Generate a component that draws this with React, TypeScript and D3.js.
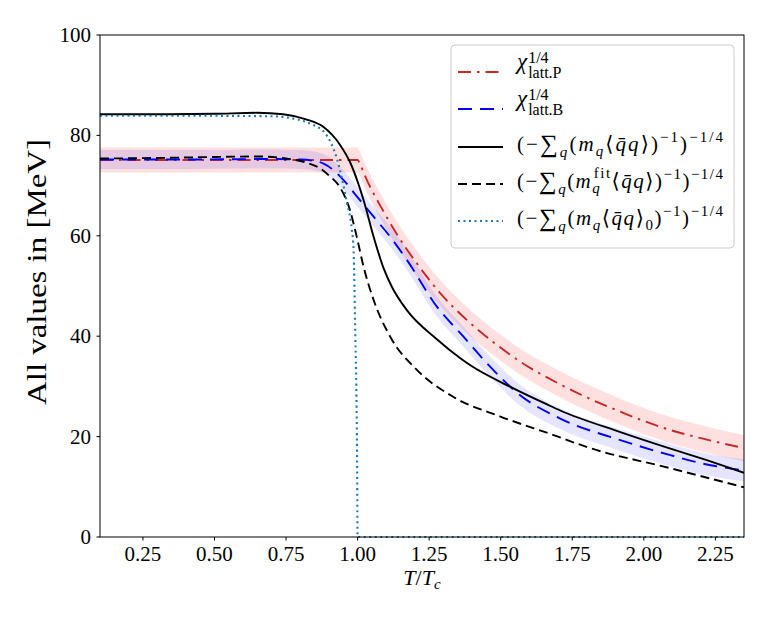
import * as React from "react";
import * as d3 from "d3";

// chi_latt.P (red, dash-dot) with its error band
const tP = [0.1, 0.5, 0.9, 1.0, 1.01, 1.027, 1.091, 1.143, 1.207, 1.29, 1.382, 1.47, 1.569, 1.708, 1.907, 2.093, 2.22, 2.35];
const chiP = [75.1, 75.1, 75.1, 75.1, 74.1, 71.8, 64.8, 59.8, 54.5, 48.5, 43.2, 39.0, 34.9, 30.4, 25.2, 21.3, 19.4, 17.7];
const chiPErr = [2.5, 2.5, 2.5, 2.5, 2.5, 2.5, 2.5, 2.5, 2.5, 2.6, 2.6, 2.6, 2.6, 2.6, 2.6, 2.6, 2.6, 2.6];

// chi_latt.B (blue, dashed) with its error band
const tB = [0.1, 0.4, 0.7, 0.8, 0.85, 0.881, 0.951, 0.998, 1.056, 1.114, 1.172, 1.277, 1.37, 1.452, 1.569, 1.708, 1.918, 2.093, 2.233, 2.35];
const chiB = [75.2, 75.2, 75.3, 75.2, 74.9, 74.4, 71.1, 67.8, 63.8, 59.8, 55.2, 45.9, 39.9, 34.6, 28.2, 23.6, 19.3, 16.3, 14.3, 13.3];
const chiBErr = [1.9, 1.9, 1.9, 1.9, 1.9, 1.9, 1.9, 1.9, 1.9, 2.0, 2.0, 2.0, 2.0, 2.0, 2.1, 2.1, 2.1, 2.2, 2.2, 2.2];

// condensate curves (black solid, black dashed, dotted)
const tS = [0.1, 0.3, 0.5, 0.65, 0.74, 0.82, 0.88, 0.94, 0.975, 1.0, 1.021, 1.056, 1.091, 1.12, 1.172, 1.277, 1.359, 1.394, 1.534, 1.662, 1.708, 1.918, 2.093, 2.22, 2.35];
const condS = [84.2, 84.2, 84.3, 84.5, 84.2, 83.2, 81.7, 78.0, 74.5, 70.8, 67.1, 59.8, 53.5, 49.8, 45.2, 39.4, 35.6, 34.2, 29.9, 26.4, 25.2, 20.9, 17.6, 15.3, 12.8];

const tF = [0.1, 0.3, 0.5, 0.65, 0.75, 0.82, 0.87, 0.9, 0.939, 0.974, 0.997, 1.021, 1.056, 1.114, 1.207, 1.335, 1.499, 1.685, 1.802, 2.093, 2.35];
const condFit = [75.4, 75.5, 75.7, 75.8, 75.4, 74.6, 73.4, 72.0, 69.6, 65.0, 59.8, 53.8, 47.2, 39.9, 33.3, 27.9, 24.0, 20.3, 17.9, 13.7, 9.9];

const t0 = [0.1, 0.5, 0.7, 0.788, 0.84, 0.887, 0.928, 0.963, 0.98, 0.986, 0.992, 0.996, 0.998, 1.0, 1.5, 2.35];
const cond0 = [83.9, 83.9, 83.8, 83.2, 82.2, 80.4, 75.3, 66.5, 61.2, 57.2, 40.0, 28.0, 17.0, 0, 0, 0];

const xTicks = [0.25, 0.5, 0.75, 1.0, 1.25, 1.5, 1.75, 2.0, 2.25];
const yTicks = [0, 20, 40, 60, 80, 100];

const left = 100, right = 744, top = 35, bottom = 537;
const font = "'Liberation Serif', 'DejaVu Serif', serif";
const red = "#c62828";

type Seg = { t: string; size: number; it?: boolean; off?: number; dx?: number };

function MathText({ x, y, segs, width }: { x: number; y: number; segs: Seg[]; width?: number }) {
  let prev = 0;
  return (
    <text x={x} y={y} fontFamily={font} fill="black" textLength={width} lengthAdjust={width ? "spacing" : undefined}>
      {segs.map((s, i) => {
        const off = s.off || 0;
        const dy = off - prev;
        prev = off;
        return (
          <tspan key={i} fontSize={s.size} fontStyle={s.it ? "italic" : "normal"} dy={dy || undefined} dx={s.dx}>
            {s.t}
          </tspan>
        );
      })}
    </text>
  );
}

const M = 21, S = 15;
function condSegs(kind: "plain" | "fit" | "zero"): Seg[] {
  const subOff = kind === "fit" ? 5.5 : 5;
  const segs: Seg[] = [
    { t: "(\u2212", size: M },
    { t: "\u2211", size: 25, off: 1.5 },
    { t: "q", size: S, it: true, off: 6.5 },
    { t: "(", size: M, off: 0 },
    { t: "m", size: M, it: true },
    { t: "q", size: S, it: true, off: subOff },
  ];
  if (kind === "fit") segs.push({ t: "fit", size: S, off: -9.5, dx: -7.5 });
  segs.push({ t: "\u27E8", size: M, off: 0 }, { t: "q\u0304q", size: M, it: true }, { t: "\u27E9", size: M });
  if (kind === "zero") segs.push({ t: "0", size: S, off: 5 });
  segs.push(
    { t: ")", size: M, off: 0 },
    { t: "\u22121", size: S, off: -8.5 },
    { t: ")", size: M, off: 0 },
    { t: "\u22121/4", size: S, off: -8.5 }
  );
  return segs;
}

function chiSegs(sub: string): Seg[] {
  return [
    { t: "\u03C7", size: 23, it: true },
    { t: "1/4", size: 16, off: -6, dx: 1 },
    { t: sub, size: 16, off: 9.5, dx: -20.4 },
  ];
}

export default function App() {
  const x = d3.scaleLinear().domain([0.1, 2.35]).range([left, right]);
  const y = d3.scaleLinear().domain([0, 100]).range([bottom, top]);

  const line = (ts: number[], vs: number[]) =>
    d3.line<number>().x((_, i) => x(ts[i])).y((v) => y(v)).curve(d3.curveMonotoneX)(vs) || "";
  const band = (ts: number[], vs: number[], es: number[]) =>
    d3
      .area<number>()
      .x((_, i) => x(ts[i]))
      .y0((v, i) => y(v - es[i]))
      .y1((v, i) => y(v + es[i]))
      .curve(d3.curveMonotoneX)(vs) || "";

  const legendRows = [
    { y: 72, stroke: red, dash: "13 6 2.5 6", label: <MathText x={517} y={68.5} segs={chiSegs("latt.P")} /> },
    { y: 109, stroke: "#0000ff", dash: "14 8", label: <MathText x={517} y={105.5} segs={chiSegs("latt.B")} /> },
    { y: 147, stroke: "black", dash: undefined, label: <MathText x={517} y={150.5} segs={condSegs("plain")} width={206} /> },
    { y: 184, stroke: "black", dash: "9 5", label: <MathText x={517} y={187.5} segs={condSegs("fit")} width={206} /> },
    { y: 221, stroke: "#1f77b4", dash: "2 3.5", label: <MathText x={517} y={224.5} segs={condSegs("zero")} width={206} /> },
  ];

  return (
    <svg width={774} height={619} style={{ position: "absolute", left: 0, top: 0, background: "white" }}>
      <defs>
        <clipPath id="plot">
          <rect x={left} y={top - 2} width={right - left} height={bottom - top + 4} />
        </clipPath>
      </defs>
      <g clipPath="url(#plot)">
        <path d={band(tP, chiP, chiPErr)} fill="red" fillOpacity={0.12} />
        <path d={band(tB, chiB, chiBErr)} fill="blue" fillOpacity={0.1} />
        <path d={line(tP, chiP)} fill="none" stroke={red} strokeWidth={1.9} strokeDasharray="13 6 2.5 6" />
        <path d={line(tB, chiB)} fill="none" stroke="#0000ff" strokeWidth={1.9} strokeDasharray="14 8" />
        <path d={line(tS, condS)} fill="none" stroke="black" strokeWidth={1.9} />
        <path d={line(tF, condFit)} fill="none" stroke="black" strokeWidth={1.9} strokeDasharray="9 5" />
        <path d={line(t0, cond0)} fill="none" stroke="#1f77b4" strokeWidth={2.1} strokeDasharray="2 3.5" />
      </g>

      <rect x={left} y={top} width={right - left} height={bottom - top} fill="none" stroke="black" strokeWidth={1} />

      {xTicks.map((t) => (
        <g key={t}>
          <line x1={x(t)} x2={x(t)} y1={bottom} y2={bottom + 3.5} stroke="black" />
          <text x={x(t)} y={561} textAnchor="middle" fontFamily={font} fontSize={21}>
            {t.toFixed(2)}
          </text>
        </g>
      ))}
      {yTicks.map((t) => (
        <g key={t}>
          <line x1={left - 3.5} x2={left} y1={y(t)} y2={y(t)} stroke="black" />
          <text x={91} y={y(t) + 7} textAnchor="end" fontFamily={font} fontSize={21}>
            {t}
          </text>
        </g>
      ))}

      <text x={422} y={585} textAnchor="middle" fontFamily={font} fontSize={22}>
        <tspan fontStyle="italic">T</tspan>
        <tspan>/</tspan>
        <tspan fontStyle="italic">T</tspan>
        <tspan fontStyle="italic" fontSize={15} dy={4}>c</tspan>
      </text>
      <text
        transform={`translate(46,${272}) rotate(-90)`}
        textAnchor="middle"
        fontFamily={font}
        fontSize={27}
        textLength={266}
        lengthAdjust="spacingAndGlyphs"
      >
        All values in [MeV]
      </text>

      <rect x={451} y={45} width={283} height={203} rx={4} fill="white" fillOpacity={0.8} stroke="#cccccc" />
      {legendRows.map((r, i) => (
        <g key={i}>
          <line x1={458} x2={503} y1={r.y} y2={r.y} stroke={r.stroke} strokeWidth={i === 4 ? 2.1 : 1.9} strokeDasharray={r.dash} />
          {r.label}
        </g>
      ))}
    </svg>
  );
}
